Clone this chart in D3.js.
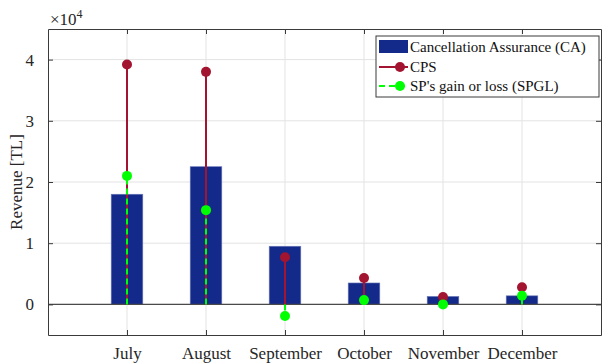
<!DOCTYPE html>
<html>
<head>
<meta charset="utf-8">
<script src="https://cdn.jsdelivr.net/npm/d3@7"></script>
<style>
  body { margin: 0; background: #fff; }
  svg { display: block; font-family: "Liberation Serif", "Times New Roman", serif; }
</style>
</head>
<body>
<svg id="chart" width="603" height="363"></svg>
<script>
// ── Data ──────────────────────────────────────────────────────────────────────

const months = ['July', 'August', 'September', 'October', 'November', 'December'];
const caValues = [18000, 22500, 9500, 3500, 1300, 1400];
const cpsValues = [39200, 38000, 7700, 4300, 1200, 2800];
const spglValues = [21000, 15400, -1900, 700, 0, 1400];
const yTicks = [0, 10000, 20000, 30000, 40000];

// ── Layout ────────────────────────────────────────────────────────────────────

const L = 48, R = 601, T = 29, B = 335;
const svg = d3.select('#chart');

const x = d3.scaleLinear().domain([0, months.length + 1]).range([L, R]);
const y = d3.scaleLinear().domain([-5000, 45000]).range([B, T]);
const unit = x(1) - x(0);
const barW = unit * 0.4;

const axisColor = '#3a3a3a';
const gridColor = '#e3e3e3';

// grid
svg.append('g').selectAll('line').data(yTicks).join('line')
  .attr('x1', L).attr('x2', R)
  .attr('y1', d => y(d)).attr('y2', d => y(d))
  .attr('stroke', gridColor).attr('stroke-width', 1);
svg.append('g').selectAll('line').data(months).join('line')
  .attr('x1', (d, i) => x(i + 1)).attr('x2', (d, i) => x(i + 1))
  .attr('y1', T).attr('y2', B)
  .attr('stroke', gridColor).attr('stroke-width', 1);

// bars
svg.append('g').selectAll('rect').data(caValues).join('rect')
  .attr('x', (d, i) => x(i + 1) - barW / 2)
  .attr('width', barW)
  .attr('y', d => y(Math.max(0, d)))
  .attr('height', d => Math.abs(y(d) - y(0)))
  .attr('fill', '#142a8a')
  .attr('stroke', '#6a78b8').attr('stroke-width', 0.6);

// baseline
svg.append('line')
  .attr('x1', L).attr('x2', R).attr('y1', y(0)).attr('y2', y(0))
  .attr('stroke', '#4a4a4a').attr('stroke-width', 1.2);

// CPS stems
const cpsColor = '#a2142f';
const spColor = '#00ff00';
svg.append('g').selectAll('line').data(cpsValues).join('line')
  .attr('x1', (d, i) => x(i + 1)).attr('x2', (d, i) => x(i + 1))
  .attr('y1', y(0)).attr('y2', d => y(d))
  .attr('stroke', cpsColor).attr('stroke-width', 2);

// SPGL stems
svg.append('g').selectAll('line').data(spglValues).join('line')
  .attr('x1', (d, i) => x(i + 1)).attr('x2', (d, i) => x(i + 1))
  .attr('y1', y(0)).attr('y2', d => y(d))
  .attr('stroke', spColor).attr('stroke-width', 2)
  .attr('stroke-dasharray', '6,4');

svg.append('g').selectAll('circle').data(cpsValues).join('circle')
  .attr('cx', (d, i) => x(i + 1)).attr('cy', d => y(d)).attr('r', 5)
  .attr('fill', cpsColor);
svg.append('g').selectAll('circle').data(spglValues).join('circle')
  .attr('cx', (d, i) => x(i + 1)).attr('cy', d => y(d)).attr('r', 5)
  .attr('fill', spColor);

// ── Axes ──────────────────────────────────────────────────────────────────────

const tickFmt = d => d / 10000;
const yAxis = svg.append('g').attr('transform', `translate(${L},0)`)
  .call(d3.axisLeft(y).tickValues(yTicks).tickFormat(tickFmt).tickSizeInner(-5).tickSizeOuter(0).tickPadding(14));
const yAxisR = svg.append('g').attr('transform', `translate(${R},0)`)
  .call(d3.axisRight(y).tickValues(yTicks).tickFormat('').tickSizeInner(-5).tickSizeOuter(0));
const xAxis = svg.append('g').attr('transform', `translate(0,${B})`)
  .call(d3.axisBottom(x).tickValues(d3.range(1, months.length + 1))
    .tickFormat(d => months[d - 1]).tickSizeInner(-5).tickSizeOuter(0).tickPadding(12));
const xAxisT = svg.append('g').attr('transform', `translate(0,${T})`)
  .call(d3.axisTop(x).tickValues(d3.range(1, months.length + 1)).tickFormat('').tickSizeInner(-5).tickSizeOuter(0));

[yAxis, yAxisR, xAxis, xAxisT].forEach(g => {
  g.select('.domain').attr('stroke', axisColor);
  g.selectAll('.tick line').attr('stroke', axisColor);
  g.selectAll('.tick text').attr('fill', '#262626')
    .style('font-family', '"Liberation Serif", serif').style('font-size', '17px');
});

svg.append('text')
  .attr('x', L + 2).attr('y', 25)
  .attr('fill', '#262626').style('font-size', '17px')
  .html('×10<tspan dy="-7" font-size="12px">4</tspan>');

svg.append('text')
  .attr('transform', `translate(22,${(T + B) / 2}) rotate(-90)`)
  .attr('text-anchor', 'middle')
  .attr('fill', '#262626').style('font-size', '17px')
  .text('Revenue [TL]');

// ── Legend ────────────────────────────────────────────────────────────────────

const lg = svg.append('g').attr('transform', 'translate(376,36)');
lg.append('rect').attr('width', 223).attr('height', 61)
  .attr('fill', '#fff').attr('stroke', '#3a3a3a').attr('stroke-width', 1);
lg.append('rect').attr('x', 3).attr('y', 4).attr('width', 29).attr('height', 13).attr('fill', '#142a8a');
lg.append('line').attr('x1', 3).attr('x2', 32).attr('y1', 31).attr('y2', 31)
  .attr('stroke', cpsColor).attr('stroke-width', 2);
lg.append('circle').attr('cx', 24).attr('cy', 31).attr('r', 5).attr('fill', cpsColor);
lg.append('line').attr('x1', 3).attr('x2', 32).attr('y1', 50).attr('y2', 50)
  .attr('stroke', spColor).attr('stroke-width', 2).attr('stroke-dasharray', '6,4');
lg.append('circle').attr('cx', 24).attr('cy', 50).attr('r', 5).attr('fill', spColor);

const legendLabels = ['Cancellation Assurance (CA)', 'CPS', "SP's gain or loss (SPGL)"];
lg.selectAll('text.lbl').data(legendLabels).join('text')
  .attr('class', 'lbl')
  .attr('x', 34).attr('y', (d, i) => 16 + i * 19.5)
  .attr('fill', '#111').style('font-size', '15px')
  .text(d => d);
</script>
</body>
</html>
